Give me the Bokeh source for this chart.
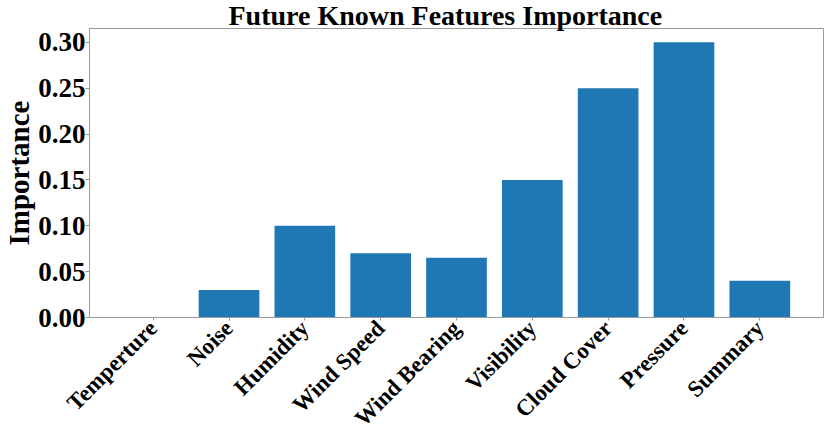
import math
from bokeh.plotting import figure
from bokeh.models import ColumnDataSource, FixedTicker, Range1d, NumeralTickFormatter
from bokeh.embed import file_html
from bokeh.resources import INLINE

categories = ["Temperture", "Noise", "Humidity", "Wind Speed", "Wind Bearing",
              "Visibility", "Cloud Cover", "Pressure", "Summary"]
importance = [0.0, 0.03, 0.10, 0.07, 0.065, 0.15, 0.25, 0.30, 0.04]
y_ticks = [0.0, 0.05, 0.10, 0.15, 0.20, 0.25, 0.30]
title_text = "Future Known Features Importance"
y_label = "Importance"

xs = list(range(len(categories)))
src = ColumnDataSource(dict(x=xs, top=importance))

FONT = "Liberation Serif"
X0, X1 = -0.84, len(categories) - 1 + 0.84
Y0, Y1 = 0.0, 0.315
p = figure(width=829, height=442, output_backend="svg", toolbar_location=None,
           x_range=Range1d(X0, X1), y_range=Range1d(Y0, Y1),
           title=title_text,
           min_border_left=0, min_border_right=6, min_border_top=0, min_border_bottom=0)

p.vbar(x="x", top="top", width=0.8, source=src, fill_color="#1f77b4", line_color=None)

p.title.align = "left"
p.title.text_font = FONT
p.title.text_font_size = "28px"
p.title.text_font_style = "bold"
p.title.text_color = "black"
p.title.text_line_height = 0.85
p.title.standoff = -5
p.title.offset = 139

p.grid.visible = False
p.outline_line_color = "#999999"
p.outline_line_width = 1

p.xaxis.ticker = FixedTicker(ticks=xs)
p.xaxis.major_label_overrides = {i: c for i, c in enumerate(categories)}
p.xaxis.major_label_orientation = math.pi / 4
p.yaxis.ticker = FixedTicker(ticks=y_ticks)
p.yaxis.formatter = NumeralTickFormatter(format="0.00")
p.yaxis.axis_label = y_label

for ax in (p.xaxis, p.yaxis):
    ax.axis_line_color = "#999999"
    ax.major_tick_line_color = "#999999"
    ax.major_tick_in = 0
    ax.minor_tick_line_color = None
    ax.major_label_text_font = FONT
    ax.major_label_text_font_style = "bold"
    ax.major_label_text_color = "black"
    ax.axis_label_text_font = FONT
    ax.axis_label_text_font_style = "bold"
    ax.axis_label_text_color = "black"

p.xaxis.major_tick_out = 3
p.yaxis.major_tick_out = 4
p.yaxis.major_label_text_font_size = "27px"
p.xaxis.major_label_text_font_size = "23px"
p.yaxis.axis_label_text_font_size = "29px"
p.yaxis.axis_label_standoff = 0
p.yaxis.major_label_standoff = 0
p.xaxis.major_label_standoff = 4

open("out.html", "w").write(file_html(p, INLINE))
